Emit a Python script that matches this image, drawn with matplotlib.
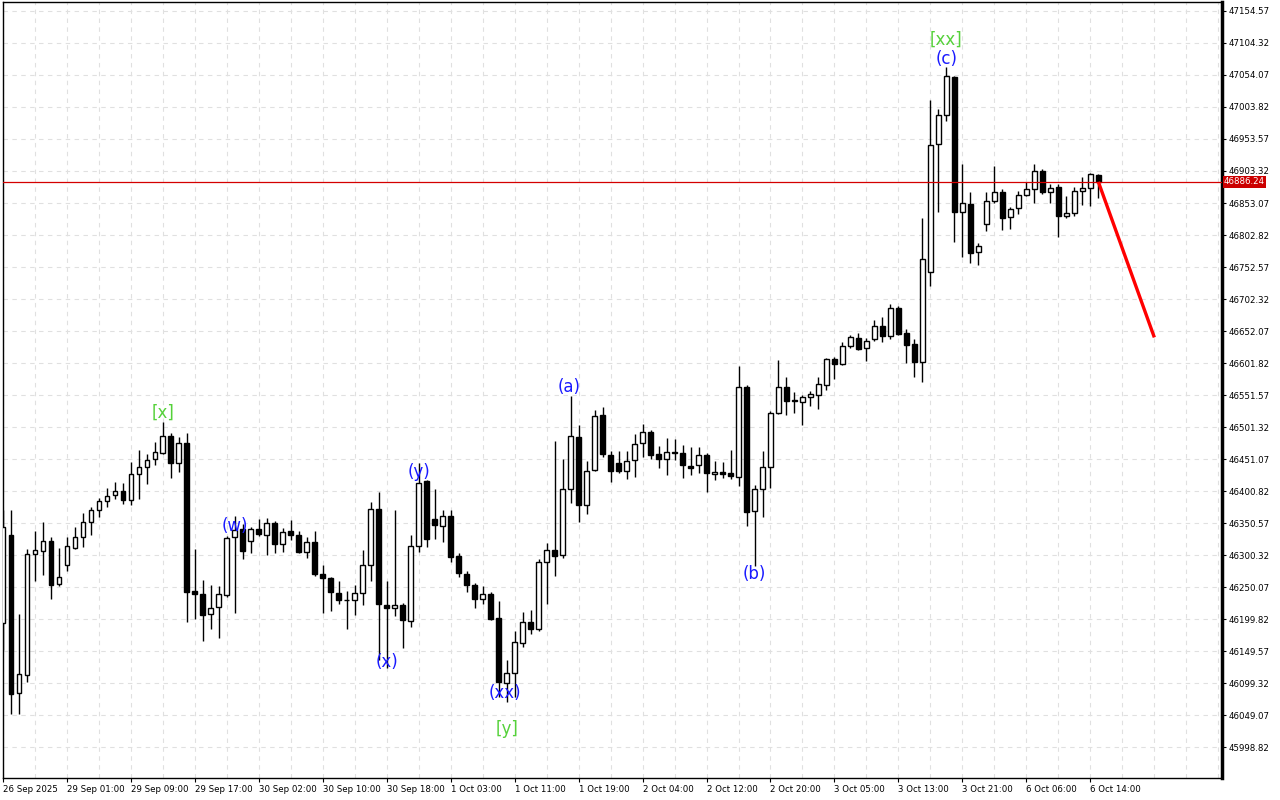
import matplotlib.pyplot as plt
from matplotlib.transforms import blended_transform_factory

# hourly OHLC (one value per candle, left to right)
opens = [
    46193.5, 46331.7, 46083.6, 46111.9, 46301.9, 46306.6, 46322.3, 46254.8, 46284.6, 46311.3,
    46328.6, 46352.1, 46371.0, 46385.1, 46394.5, 46400.8, 46386.7, 46427.5, 46438.5, 46451.1,
    46460.5, 46487.2, 46444.8, 46476.2, 46243.8, 46239.1, 46207.7, 46218.7, 46237.5, 46328.6,
    46341.2, 46322.3, 46341.2, 46331.7, 46350.6, 46317.6, 46338.0, 46331.7, 46305.1, 46320.8,
    46270.5, 46264.3, 46240.7, 46229.7, 46229.7, 46240.7, 46284.6, 46372.6, 46221.8, 46217.1,
    46221.8, 46196.7, 46314.5, 46416.5, 46356.9, 46345.9, 46361.6, 46298.7, 46270.5, 46253.2,
    46231.2, 46239.1, 46201.4, 46099.3, 46115.1, 46162.1, 46195.1, 46184.1, 46289.3, 46308.2,
    46300.3, 46403.9, 46485.6, 46378.8, 46433.8, 46520.2, 46457.4, 46444.8, 46432.3, 46449.5,
    46476.2, 46493.5, 46458.9, 46451.1, 46462.1, 46460.5, 46440.1, 46441.7, 46457.4, 46427.5,
    46430.7, 46429.1, 46422.8, 46564.1, 46369.4, 46403.9, 46438.5, 46523.3, 46564.1, 46543.7,
    46540.6, 46548.4, 46551.6, 46567.3, 46608.1, 46600.3, 46628.5, 46641.1, 46625.4, 46639.5,
    46659.9, 46644.2, 46688.2, 46648.9, 46631.7, 46603.4, 46744.7, 46945.7, 46991.3, 47050.9,
    46838.9, 46851.5, 46776.1, 46820.1, 46856.2, 46870.3, 46831.1, 46845.2, 46865.6, 46875.0,
    46903.3, 46870.3, 46878.2, 46832.7, 46837.4, 46871.9, 46876.6, 46897.0,
]
highs = [
    46371.0, 46371.0, 46207.7, 46309.7, 46338.0, 46352.1, 46328.6, 46311.3, 46328.6, 46344.3,
    46366.3, 46375.7, 46389.8, 46405.5, 46415.0, 46413.4, 46446.4, 46465.2, 46458.9, 46477.8,
    46509.2, 46491.9, 46485.6, 46491.9, 46309.7, 46261.1, 46253.2, 46251.6, 46330.2, 46361.6,
    46349.0, 46344.3, 46356.9, 46358.4, 46353.7, 46342.8, 46355.3, 46338.0, 46328.6, 46338.0,
    46284.6, 46266.0, 46259.5, 46243.8, 46253.2, 46308.2, 46383.5, 46399.3, 46259.5, 46371.0,
    46225.0, 46331.7, 46444.8, 46418.0, 46403.9, 46371.0, 46371.0, 46303.5, 46275.2, 46256.4,
    46251.6, 46242.2, 46228.1, 46135.4, 46180.9, 46210.8, 46214.0, 46294.0, 46319.2, 46479.3,
    46451.1, 46550.0, 46504.5, 46448.0, 46528.0, 46532.7, 46463.6, 46463.6, 46463.6, 46490.3,
    46506.0, 46496.6, 46471.5, 46484.0, 46482.5, 46473.1, 46469.9, 46469.9, 46460.5, 46448.0,
    46446.4, 46465.2, 46597.1, 46567.3, 46410.1, 46463.6, 46526.4, 46606.5, 46579.8, 46556.3,
    46551.6, 46557.8, 46579.8, 46609.7, 46611.2, 46634.8, 46645.8, 46648.9, 46641.1, 46669.3,
    46674.0, 46694.5, 46691.3, 46655.2, 46639.5, 46829.5, 47014.8, 47000.7, 47066.6, 47052.0,
    46914.3, 46870.3, 46790.3, 46870.3, 46911.2, 46875.0, 46846.8, 46871.9, 46886.1, 46914.3,
    46906.5, 46882.9, 46882.9, 46864.1, 46878.2, 46893.9, 46900.2, 46898.0,
]
lows = [
    46151.1, 46050.6, 46050.6, 46100.9, 46259.5, 46268.9, 46231.2, 46251.6, 46275.2, 46309.7,
    46312.9, 46331.7, 46360.0, 46375.7, 46388.3, 46380.4, 46378.8, 46388.3, 46411.8, 46441.7,
    46458.9, 46421.2, 46430.7, 46195.1, 46199.8, 46165.3, 46184.1, 46170.0, 46234.4, 46209.2,
    46294.0, 46303.5, 46330.2, 46300.3, 46303.5, 46305.1, 46323.9, 46303.5, 46295.6, 46267.4,
    46209.2, 46212.4, 46223.4, 46184.1, 46206.1, 46221.8, 46259.5, 46135.4, 46122.9, 46204.6,
    46154.3, 46187.3, 46305.1, 46312.9, 46325.5, 46320.8, 46289.3, 46265.8, 46242.2, 46217.1,
    46223.4, 46198.3, 46077.3, 46069.5, 46077.3, 46155.8, 46176.3, 46180.9, 46223.4, 46267.4,
    46295.6, 46381.9, 46352.1, 46364.7, 46432.3, 46454.2, 46415.0, 46429.1, 46419.7, 46422.8,
    46454.2, 46451.1, 46436.9, 46425.9, 46449.5, 46421.2, 46425.9, 46429.1, 46399.3, 46418.1,
    46421.2, 46419.7, 46408.7, 46345.9, 46283.0, 46360.0, 46405.5, 46521.7, 46520.2, 46523.3,
    46504.5, 46534.3, 46529.6, 46559.4, 46576.7, 46599.0, 46625.4, 46622.5, 46605.0, 46636.4,
    46634.8, 46639.5, 46645.8, 46601.8, 46579.8, 46572.0, 46722.7, 46838.9, 46981.8, 46791.8,
    46768.3, 46758.8, 46755.7, 46809.1, 46853.1, 46810.7, 46812.2, 46835.8, 46864.1, 46853.1,
    46867.2, 46853.1, 46799.7, 46829.5, 46832.7, 46849.9, 46848.4, 46860.9,
]
closes = [
    46344.3, 46082.1, 46113.5, 46301.9, 46308.2, 46322.3, 46253.2, 46265.8, 46314.5, 46328.6,
    46352.1, 46371.0, 46385.1, 46393.0, 46400.8, 46386.7, 46427.5, 46438.5, 46449.5, 46462.1,
    46487.2, 46444.8, 46476.2, 46242.2, 46239.1, 46206.1, 46217.1, 46239.1, 46327.0, 46339.6,
    46306.6, 46341.2, 46333.3, 46350.6, 46317.6, 46336.5, 46331.7, 46305.1, 46320.8, 46270.5,
    46264.3, 46242.2, 46229.7, 46229.0, 46240.7, 46284.6, 46372.6, 46223.4, 46217.1, 46221.8,
    46198.3, 46314.5, 46413.4, 46325.5, 46347.4, 46361.6, 46297.1, 46272.0, 46253.2, 46231.2,
    46239.1, 46199.8, 46100.9, 46115.1, 46163.7, 46195.1, 46184.1, 46289.3, 46308.2, 46298.7,
    46403.9, 46487.2, 46378.8, 46432.3, 46518.6, 46458.9, 46432.3, 46432.3, 46448.0, 46474.6,
    46493.5, 46457.4, 46451.1, 46462.1, 46460.5, 46441.7, 46436.9, 46457.4, 46429.1, 46430.7,
    46427.5, 46424.4, 46564.1, 46367.9, 46403.9, 46438.5, 46523.3, 46564.1, 46542.2, 46542.2,
    46548.4, 46553.1, 46568.8, 46608.1, 46600.3, 46628.5, 46642.6, 46623.8, 46636.4, 46659.9,
    46644.2, 46688.2, 46647.4, 46630.1, 46603.4, 46765.1, 46944.1, 46991.3, 47052.5, 46838.9,
    46853.1, 46774.5, 46785.5, 46856.2, 46870.3, 46829.5, 46843.7, 46865.6, 46875.0, 46903.3,
    46870.3, 46876.6, 46832.7, 46837.4, 46871.9, 46876.6, 46898.6, 46886.24,
]

time_labels = [
    "26 Sep 2025", "29 Sep 01:00", "29 Sep 09:00", "29 Sep 17:00", "30 Sep 02:00",
    "30 Sep 10:00", "30 Sep 18:00", "1 Oct 03:00", "1 Oct 11:00", "1 Oct 19:00",
    "2 Oct 04:00", "2 Oct 12:00", "2 Oct 20:00", "3 Oct 05:00", "3 Oct 13:00",
    "3 Oct 21:00", "6 Oct 06:00", "6 Oct 14:00",
]
price_ticks = [
    45998.82, 46049.07, 46099.32, 46149.57, 46199.82, 46250.07, 46300.32, 46350.57,
    46400.82, 46451.07, 46501.32, 46551.57, 46601.82, 46652.07, 46702.32, 46752.57,
    46802.82, 46853.07, 46903.32, 46953.57, 47003.82, 47054.07, 47104.32, 47154.57,
]
last_price = 46886.24

# wave labels: (text, bar index, price, colour)
wave_labels = [
    ("[x]", 20.0, 46523.3, "green"),
    ("(w)", 29.0, 46345.8, "blue"),
    ("(x)", 48.0, 46132.3, "blue"),
    ("(y)", 52.0, 46430.7, "blue"),
    ("(xx)", 62.8, 46083.6, "blue"),
    ("[y]", 63.1, 46027.0, "green"),
    ("(a)", 70.8, 46564.1, "blue"),
    ("(b)", 94.0, 46270.4, "blue"),
    ("[xx]", 118.0, 47109.0, "green"),
    ("(c)", 118.0, 47079.2, "blue"),
]
label_colors = {"green": "#55d13a", "blue": "#1a1aff"}

# forecast arrow: from last close to target
arrow_x = [137, 144]
arrow_y = [46886.24, 46642.0]

W, H = 1280, 800
fig = plt.figure(figsize=(12.8, 8), dpi=100)
ax = fig.add_axes([2.5 / W, 22 / H, (1222 - 2.5) / W, 776 / H])

n = len(opens)
xs = list(range(n))
ax.vlines(xs, lows, highs, color="black", linewidth=1.0, zorder=2)
bottoms = [min(o, c) for o, c in zip(opens, closes)]
heights = [max(abs(c - o), 0.8) for o, c in zip(opens, closes)]
faces = ["white" if c > o else "black" for o, c in zip(opens, closes)]
ax.bar(xs, heights, bottom=bottoms, width=0.56, color=faces,
       edgecolor="black", linewidth=1.0, zorder=3)

ax.axhline(last_price, color="#d40000", linewidth=0.9, zorder=4)
ax.plot(arrow_x, arrow_y, color="#ff0000", linewidth=2.4, zorder=5,
        solid_capstyle="butt")

for txt, xi, yi, col in wave_labels:
    ax.text(xi, yi, txt, color=label_colors[col], fontsize=12,
            ha="center", va="center", zorder=6)

ax.set_xlim(-0.0375, 152.46)
ax.set_ylim(45950.15, 47168.7)

ax.set_xticks(range(0, 8 * len(time_labels), 8))
ax.set_xticklabels(time_labels, ha="left", fontsize=6.2)
ax.set_xticks(range(0, 153, 4), minor=True)
ax.yaxis.tick_right()
ax.set_yticks(price_ticks)
ax.set_yticklabels([f"{v:.2f}" for v in price_ticks], fontsize=6.2)
ax.tick_params(axis="x", which="major", length=3, pad=2, width=0.8)
ax.tick_params(axis="x", which="minor", length=0)
ax.tick_params(axis="y", length=3, pad=2, width=0.8)

ax.grid(True, which="both", axis="x", color="#e0e0e0", linestyle=(0, (4, 4)), linewidth=0.8)
ax.grid(True, which="major", axis="y", color="#e0e0e0", linestyle=(0, (4, 4)), linewidth=0.8)
ax.set_axisbelow(True)
for side in ["left", "top", "bottom"]:
    ax.spines[side].set_linewidth(1.0)
ax.spines["right"].set_linewidth(2.5)

tr = blended_transform_factory(ax.transAxes, ax.transData)
ax.text(1.0015, last_price, f"{last_price:.2f}", transform=tr, fontsize=6.2,
        color="white", ha="left", va="center", zorder=7,
        bbox=dict(boxstyle="square,pad=0.15", facecolor="#cc0000", edgecolor="none"))

fig.savefig("out.png", dpi=100)
